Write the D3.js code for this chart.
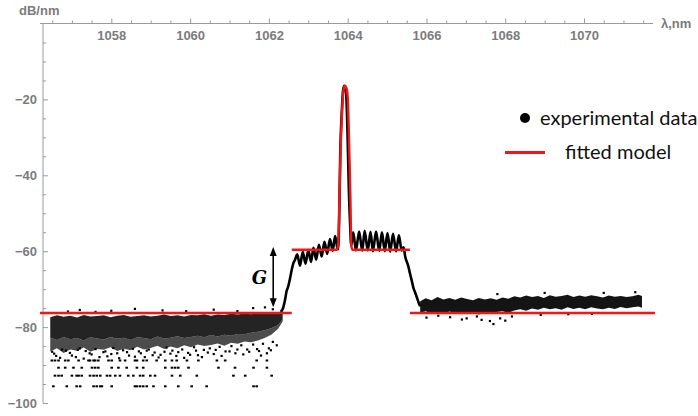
<!DOCTYPE html>
<html><head><meta charset="utf-8">
<script src="https://cdn.jsdelivr.net/npm/d3@7"></script>
<style>html,body{margin:0;padding:0;background:#fff}svg{display:block}</style>
</head><body>
<svg id="chart" width="698" height="416"></svg>
<script>
// ---------- axis ticks ----------
const xMajorTicks = [1058, 1060, 1062, 1064, 1066, 1068, 1070];
const xMinorTicks = [1056.5,1057,1057.5,1058.5,1059,1059.5,1060.5,1061,1061.5,1062.5,1063,1063.5,1064.5,1065,1065.5,1066.5,1067,1067.5,1068.5,1069,1069.5,1070.5,1071,1071.5];
const yMajorTicks = [-20, -40, -60, -80, -100];
const yMinorTicks = [-5,-10,-15,-25,-30,-35,-45,-50,-55,-65,-70,-75,-85,-90,-95];

// ---------- experimental data: noise left of the pump (envelopes) ----------
const leftBandLambda = [1056.45,1056.62,1056.79,1056.96,1057.13,1057.30,1057.47,1057.64,1057.81,1057.98,1058.15,1058.32,1058.49,1058.66,1058.83,1059.00,1059.17,1059.34,1059.51,1059.68,1059.85,1060.02,1060.19,1060.36,1060.53,1060.70,1060.87,1061.04,1061.21,1061.38,1061.55,1061.72,1061.89,1062.06,1062.23,1062.35];
const leftBandUpper  = [-77.4,-76.9,-77.3,-77.0,-77.5,-76.8,-77.2,-77.1,-76.9,-77.4,-77.0,-76.8,-77.3,-77.1,-76.9,-77.2,-77.0,-76.7,-77.1,-76.9,-77.2,-76.8,-76.9,-76.6,-77.0,-76.7,-76.8,-76.5,-76.7,-76.4,-76.6,-76.3,-76.5,-76.2,-76.1,-76.0];
const leftCoreLower  = [-82.8,-83.4,-82.6,-83.2,-82.9,-83.5,-82.7,-83.0,-83.3,-82.6,-83.1,-82.8,-83.4,-82.7,-82.9,-83.2,-82.5,-83.0,-82.8,-82.4,-82.9,-82.6,-82.3,-82.7,-82.1,-82.5,-82.0,-82.3,-81.8,-81.9,-81.5,-81.2,-80.8,-80.3,-79.5,-78.0];
const leftBandLower  = [-86.4,-85.6,-86.8,-85.9,-86.2,-85.4,-86.5,-85.8,-86.0,-85.3,-86.3,-85.7,-86.1,-85.2,-85.9,-85.5,-84.9,-85.8,-85.1,-85.6,-84.8,-85.3,-84.6,-85.0,-84.7,-84.3,-84.9,-84.1,-84.4,-83.8,-84.0,-83.5,-82.9,-82.0,-80.5,-78.5];

// scattered points below the dense band (wavelength, dB)
const leftFringeLambda = [1056.5,1056.6,1056.75,1056.95,1057.1,1057.2,1057.35,1057.5,1057.6,1057.8,1057.9,1058.05,1058.15,1058.3,1058.45,1058.55,1058.7,1058.85,1058.95,1059.1,1059.25,1059.4,1059.55,1059.65,1059.8,1059.95,1060.1,1060.2,1060.35,1060.5,1060.6,1060.75,1060.9,1061.05,1061.15,1061.3,1061.45,1061.6,1061.75,1061.85,1062.0,1062.1,1062.2,
  1056.55,1056.7,1056.85,1057.0,1057.15,1057.3,1057.45,1057.7,1057.85,1058.0,1058.2,1058.4,1058.6,1058.75,1058.9,1059.05,1059.2,1059.35,1059.5,1059.7,1059.85,1060.0,1060.15,1060.3,1060.45,1060.65,1060.8,1061.0,1061.2,1061.35,1061.5,1061.7,1061.8,1061.95,1062.05];
const leftFringeDb     = [-86.5,-87.6,-85.9,-86.8,-87.9,-85.6,-86.3,-87.2,-85.8,-86.6,-87.7,-85.5,-86.9,-86.1,-87.5,-85.7,-86.4,-87.9,-85.9,-86.7,-87.3,-85.4,-86.2,-87.6,-85.9,-86.8,-85.3,-87.4,-86.0,-85.6,-87.1,-85.2,-86.4,-85.0,-86.9,-84.8,-85.9,-84.6,-86.3,-84.4,-85.6,-83.9,-84.8,
  -87.0,-88.1,-86.2,-87.5,-86.0,-88.3,-86.9,-87.9,-86.4,-87.1,-88.2,-86.6,-87.8,-86.9,-86.2,-87.4,-88.0,-86.5,-87.0,-86.6,-88.1,-87.3,-86.2,-87.9,-86.7,-86.0,-87.6,-86.4,-85.9,-87.2,-86.5,-85.8,-87.5,-86.9,-86.1];

// points just above the fitted floor on the left
const leftTopLambda = [1056.9,1057.2,1057.6,1058.0,1058.6,1059.3,1059.9,1060.6,1061.2,1061.6,1061.9,1062.1];
const leftTopDb     = [-75.9,-75.5,-76.0,-75.7,-75.2,-75.6,-75.8,-75.4,-75.8,-75.0,-74.8,-75.3];

// quantised low-level rows of points
const lowRowLevels = [-88.8, -90.7, -92.8, -95.6];
const lowRowLambdas = [
  [1056.49,1056.57,1056.66,1056.83,1056.91,1057.17,1057.42,1057.46,1057.55,1057.59,1057.67,1057.93,1058.01,1058.22,1058.35,1058.60,1058.65,1058.81,1058.90,1059.15,1059.37,1059.54,1059.66,1059.92,1060.21,1060.68,1060.89,1061.69,1061.95],
  [1056.66,1056.83,1057.04,1057.25,1057.51,1057.59,1057.67,1058.01,1058.18,1058.39,1058.65,1058.81,1059.37,1059.54,1059.62,1059.70,1059.96,1060.72,1061.14,1061.61,1061.95],
  [1056.57,1056.66,1056.74,1057.00,1057.12,1057.17,1057.25,1057.46,1057.55,1057.63,1057.72,1057.89,1057.97,1058.10,1058.22,1058.43,1058.56,1058.73,1058.81,1058.99,1059.11,1059.54,1059.75,1060.17,1061.10,1061.40,1062.07],
  [1056.53,1056.87,1057.12,1057.21,1057.55,1057.63,1057.72,1057.76,1058.01,1058.60,1058.65,1058.73,1058.81,1058.90,1059.07,1059.37,1059.70,1060.04,1060.42,1061.61,1061.69]
];

// ---------- experimental data: amplified band + pump peak (trace) ----------
const traceLambda = [1062.30,1062.36,1062.41,1062.45,1062.49,1062.54,1062.58,1062.62,1062.66,1062.72,1062.79,1062.86,1062.93,1063.00,1063.07,1063.13,1063.20,1063.27,1063.34,1063.41,1063.48,1063.55,1063.62,1063.68,1063.74,1063.76,1063.79,1063.81,1063.85,1063.88,1063.91,1063.94,1063.97,1064.00,1064.03,1064.06,1064.09,1064.14,1064.21,1064.29,1064.37,1064.43,1064.51,1064.58,1064.64,1064.72,1064.80,1064.87,1064.94,1065.01,1065.08,1065.15,1065.23,1065.30,1065.37,1065.42,1065.46,1065.54,1065.58,1065.62,1065.67,1065.71,1065.75,1065.80,1065.84];
const traceDb     = [-76.0,-75.0,-72.8,-70.5,-69.3,-67.0,-64.9,-63.2,-62.4,-60.8,-63.8,-60.2,-63.3,-59.7,-62.8,-59.1,-62.2,-58.3,-61.4,-57.5,-60.7,-56.8,-59.9,-56.0,-59.2,-59.5,-48.0,-35.0,-23.5,-17.9,-16.4,-17.0,-20.2,-30.7,-43.9,-52.5,-58.5,-55.0,-59.8,-54.8,-59.9,-54.6,-59.8,-54.9,-60.0,-54.8,-59.9,-55.0,-60.0,-55.2,-60.1,-55.4,-60.0,-55.8,-59.8,-59.0,-61.4,-64.0,-65.8,-67.5,-69.7,-70.8,-72.0,-73.5,-74.5];

// ---------- experimental data: noise right of the pump (envelope) ----------
const rightBandLambda = [1065.84,1065.98,1066.13,1066.28,1066.43,1066.58,1066.73,1066.88,1067.03,1067.18,1067.33,1067.48,1067.63,1067.78,1067.93,1068.08,1068.23,1068.38,1068.53,1068.68,1068.83,1068.98,1069.13,1069.28,1069.43,1069.58,1069.73,1069.88,1070.03,1070.18,1070.33,1070.48,1070.63,1070.78,1070.93,1071.08,1071.23,1071.38,1071.47];
const rightBandUpper  = [-73.2,-72.4,-72.9,-72.1,-72.7,-72.3,-72.8,-72.2,-72.6,-72.9,-72.3,-72.7,-72.4,-72.8,-72.2,-72.5,-71.9,-72.2,-71.7,-72.1,-71.8,-72.3,-71.6,-72.0,-71.8,-71.5,-72.1,-71.7,-72.0,-71.6,-71.9,-72.2,-71.7,-72.0,-71.8,-72.1,-71.9,-71.5,-71.8];
const rightBandLower  = [-76.2,-75.8,-76.4,-76.0,-76.5,-75.9,-76.3,-76.6,-76.1,-76.4,-76.7,-76.2,-76.5,-76.0,-75.8,-76.2,-75.6,-75.3,-75.7,-75.1,-75.4,-74.9,-75.3,-75.0,-75.4,-74.8,-75.2,-74.9,-75.3,-74.8,-75.1,-75.3,-74.9,-75.2,-74.7,-75.0,-74.8,-74.6,-74.9];
const rightOutLambda = [1066.0,1066.3,1066.6,1066.9,1067.02,1067.28,1067.40,1067.61,1067.70,1067.87,1068.0,1068.17,1068.9,1069.6,1070.2,1067.8,1069.0,1070.5,1071.3];
const rightOutDb     = [-77.5,-77.0,-77.4,-78.0,-77.7,-77.2,-78.1,-78.4,-79.2,-77.7,-78.3,-77.2,-76.8,-76.6,-76.5,-71.3,-71.0,-71.0,-70.8];

// ---------- fitted model ----------
const fitLeftLambda  = [1056.19, 1062.58];
const fitLeftDb      = [-76.3, -76.3];
const fitMidLambda   = [1062.58,1063.72,1063.76,1063.79,1063.82,1063.86,1063.89,1063.93,1063.98,1064.01,1064.04,1064.07,1064.09,1064.12,1065.58];
const fitMidDb       = [-59.6,-59.6,-58.3,-46.4,-33.2,-22.7,-17.9,-16.4,-17.4,-21.4,-33.2,-46.4,-58.3,-59.6,-59.6];
const fitRightLambda = [1065.58, 1071.80];
const fitRightDb     = [-76.3, -76.3];

// ---------- annotation ----------
const gainArrowLambda = 1062.11;
const gainArrowDb = [-58.9, -74.8];

// ---------- drawing ----------
const svg = d3.select("#chart");
const x = d3.scaleLinear().domain([1056.19, 1071.75]).range([40, 653]);
const y = d3.scaleLinear().domain([0, -100]).range([23.5, 403]);
const axisColor = "#9a9a9a", labelColor = "#7c7c7c";
const tickFont = "bold 13px 'Liberation Sans', Arial, sans-serif";

// x axis (ticks upward, labels below)
const gx = svg.append("g").attr("transform", "translate(0," + y(0) + ")");
gx.append("line").attr("x1", 40).attr("x2", 653).attr("stroke", axisColor);
gx.append("g").call(d3.axisTop(x).tickValues(xMajorTicks).tickSize(5).tickFormat(""))
  .call(s => s.select(".domain").remove()).selectAll("line").attr("stroke", axisColor);
gx.append("g").call(d3.axisTop(x).tickValues(xMinorTicks).tickSize(3).tickFormat(""))
  .call(s => s.select(".domain").remove()).selectAll("line").attr("stroke", axisColor);
gx.append("g").call(d3.axisBottom(x).tickValues(xMajorTicks).tickSize(0).tickPadding(7).tickFormat(d3.format("d")))
  .call(s => s.select(".domain").remove())
  .selectAll("text").style("font", tickFont).attr("fill", labelColor);

// y axis (ticks to the right, labels left)
const yAxisX = 43;
const gy = svg.append("g").attr("transform", "translate(" + yAxisX + ",0)");
gy.append("line").attr("y1", y(0)).attr("y2", y(-100)).attr("stroke", axisColor);
gy.append("g").call(d3.axisRight(y).tickValues(yMajorTicks).tickSize(5).tickFormat(""))
  .call(s => s.select(".domain").remove()).selectAll("line").attr("stroke", axisColor);
gy.append("g").call(d3.axisRight(y).tickValues(yMinorTicks).tickSize(3).tickFormat(""))
  .call(s => s.select(".domain").remove()).selectAll("line").attr("stroke", axisColor);
gy.append("g").call(d3.axisLeft(y).tickValues(yMajorTicks).tickSize(0).tickPadding(6).tickFormat(d => "\u2212" + Math.abs(d)))
  .call(s => s.select(".domain").remove())
  .selectAll("text").style("font", tickFont).attr("fill", labelColor);

// axis titles
svg.append("text").attr("x", 19).attr("y", 15).text("dB/nm").style("font", tickFont).attr("fill", labelColor);
svg.append("text").attr("x", 661).attr("y", 28).text("\u03bb,nm").style("font", tickFont).attr("fill", labelColor);

// noise clouds (dense regions drawn as filled envelopes)
const band = (lam, up, lo) => lam.map((l, i) => ({l, u: up[i], d: lo[i]}));
const area = d3.area().x(d => x(d.l)).y0(d => y(d.d)).y1(d => y(d.u));
svg.append("path").datum(band(leftBandLambda, leftCoreLower, leftBandLower))
  .attr("d", area).attr("fill", "#000").attr("fill-opacity", 0.7);
svg.append("path").datum(band(leftBandLambda, leftBandUpper, leftCoreLower))
  .attr("d", area).attr("fill", "#000").attr("fill-opacity", 0.86);
svg.append("path").datum(band(rightBandLambda, rightBandUpper, rightBandLower))
  .attr("d", area).attr("fill", "#000").attr("fill-opacity", 0.92);

// scattered points
const dots = (lam, db) => lam.map((l, i) => ({l, v: db[i]}));
const drawDots = (data, w, h) => svg.append("g").selectAll("rect").data(data).join("rect")
  .attr("x", d => x(d.l) - w / 2).attr("y", d => y(d.v) - h / 2).attr("width", w).attr("height", h).attr("fill", "#000");
drawDots(dots(leftFringeLambda, leftFringeDb), 2.2, 2.2);
drawDots(dots(leftTopLambda, leftTopDb), 2.2, 2.2);
lowRowLevels.forEach((lev, r) => drawDots(lowRowLambdas[r].map(l => ({l, v: lev})), 2.6, 2));
drawDots(dots(rightOutLambda, rightOutDb), 2.2, 2.2);

// trace
svg.append("path").datum(dots(traceLambda, traceDb))
  .attr("d", d3.line().x(d => x(d.l)).y(d => y(d.v)).curve(d3.curveMonotoneX))
  .attr("fill", "none").attr("stroke", "#000").attr("stroke-width", 2.6).attr("stroke-linejoin", "round");

// fitted model
const red = "#f21616";
[[fitLeftLambda, fitLeftDb], [fitMidLambda, fitMidDb], [fitRightLambda, fitRightDb]].forEach(([l, v]) => {
  svg.append("path").datum(dots(l, v)).attr("d", d3.line().x(d => x(d.l)).y(d => y(d.v)).curve(d3.curveMonotoneX))
    .attr("fill", "none").attr("stroke", red).attr("stroke-width", 2.4);
});

// G arrow
const ax = x(gainArrowLambda), ay1 = y(gainArrowDb[0]), ay2 = y(gainArrowDb[1]);
svg.append("line").attr("x1", ax).attr("x2", ax).attr("y1", ay1 + 6).attr("y2", ay2 - 6).attr("stroke", "#000").attr("stroke-width", 1.6);
svg.append("path").attr("d", `M${ax},${ay1} L${ax-3.5},${ay1+9} L${ax+3.5},${ay1+9} Z`).attr("fill", "#000");
svg.append("path").attr("d", `M${ax},${ay2} L${ax-3.5},${ay2-9} L${ax+3.5},${ay2-9} Z`).attr("fill", "#000");
svg.append("text").attr("x", ax - 6).attr("y", (ay1 + ay2) / 2 + 7).attr("text-anchor", "end")
  .text("G").style("font", "italic bold 18px 'DejaVu Serif', 'Liberation Serif', serif").attr("fill", "#000");

// legend
const legFont = "20px Lato, 'Open Sans', sans-serif";
svg.append("circle").attr("cx", 525).attr("cy", 118).attr("r", 5).attr("fill", "#000");
svg.append("text").attr("x", 540).attr("y", 125).text("experimental data").style("font", legFont).attr("fill", "#111");
svg.append("line").attr("x1", 505).attr("x2", 545).attr("y1", 152.5).attr("y2", 152.5).attr("stroke", red).attr("stroke-width", 3);
svg.append("text").attr("x", 565).attr("y", 159).text("fitted model").style("font", legFont).attr("fill", "#111");
</script>
</body></html>
